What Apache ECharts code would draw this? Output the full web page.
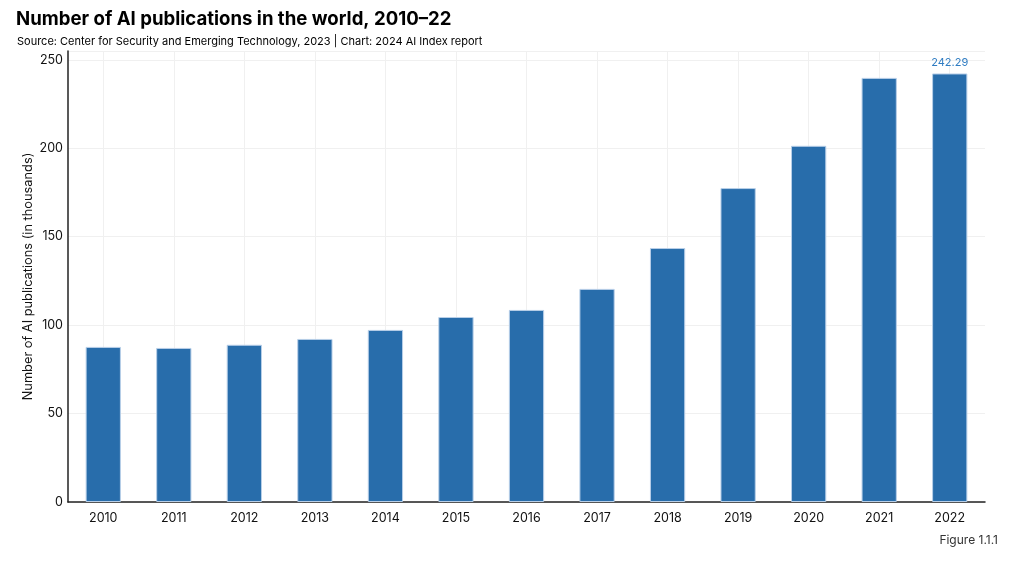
<!DOCTYPE html>
<html><head><meta charset="utf-8">
<script src="https://cdn.jsdelivr.net/npm/echarts@6/dist/echarts.min.js"></script>
<style>html,body{margin:0;padding:0;background:#fff}#c{width:1024px;height:570px}</style>
</head><body><div id="c"></div>
<script>
const years = ['2010','2011','2012','2013','2014','2015','2016','2017','2018','2019','2020','2021','2022'];
const publications = [87.7, 87.1, 88.9, 92.2, 97.3, 104.6, 108.6, 120.5, 143.6, 177.5, 201.4, 239.8, 242.29];
const yTicks = [0, 50, 100, 150, 200, 250];

const FONT = 'Inter, "Liberation Sans", sans-serif';
const chart = echarts.init(document.getElementById('c'));
chart.setOption({
  animation: false,
  backgroundColor: '#fff',
  textStyle: { fontFamily: FONT },
  title: [
    { text: 'Number of AI publications in the world, 2010–22', left: 16, top: 10, padding: 0,
      textStyle: { fontSize: 18.6, fontWeight: 'bold', color: '#000', fontFamily: FONT } },
    { text: 'Source: Center for Security and Emerging Technology, 2023 | Chart: 2024 AI Index report', left: 17, top: 36, padding: 0,
      textStyle: { fontSize: 11, fontWeight: 'normal', color: '#000', fontFamily: FONT } },
    { text: 'Figure 1.1.1', right: 26, top: 534, padding: 0,
      textStyle: { fontSize: 12, fontWeight: 'normal', color: '#333', fontFamily: FONT } }
  ],
  grid: { left: 68, right: 39, top: 51, bottom: 68 },
  xAxis: {
    type: 'category', data: years,
    axisLine: { lineStyle: { color: '#222', width: 1.5 } },
    axisTick: { show: false },
    axisLabel: { color: '#111', fontSize: 12.5, margin: 10, fontFamily: FONT },
    splitLine: { show: false }
  },
  yAxis: {
    type: 'value', min: 0, max: 255, interval: 50,
    name: 'Number of AI publications (in thousands)', nameLocation: 'middle', nameGap: 33,
    nameMoveOverlap: false,
    nameTextStyle: { color: '#111', fontSize: 12.8, fontFamily: FONT },
    axisLine: { show: true, lineStyle: { color: '#222', width: 1.5 } },
    axisTick: { show: false },
    axisLabel: { color: '#111', fontSize: 12.5, margin: 5, showMaxLabel: false, fontFamily: FONT,
      formatter: v => yTicks.includes(v) ? String(v) : '' },
    splitLine: { show: true, lineStyle: { color: '#f0f0f0' } }
  },
  series: [
    {
      type: 'line', data: [], z: 1, silent: true,
      markLine: {
        z: 1, silent: true, symbol: ['none', 'none'], label: { show: false },
        lineStyle: { color: '#f0f0f0', type: 'solid', width: 1 },
        data: years.map(y => ({ xAxis: y }))
      }
    },
    {
      type: 'bar', z: 3, data: publications.map((v, i) => ({
        value: v,
        label: { show: i === publications.length - 1 }
      })),
      barWidth: '50%',
      itemStyle: { color: '#286DAB', borderColor: '#b8cfe8', borderWidth: 1 },
      label: { position: 'top', color: '#2f7cc2', fontSize: 11, distance: 5, fontFamily: FONT,
        formatter: p => p.value.toFixed(2) }
    }
  ]
});
</script></body></html>
